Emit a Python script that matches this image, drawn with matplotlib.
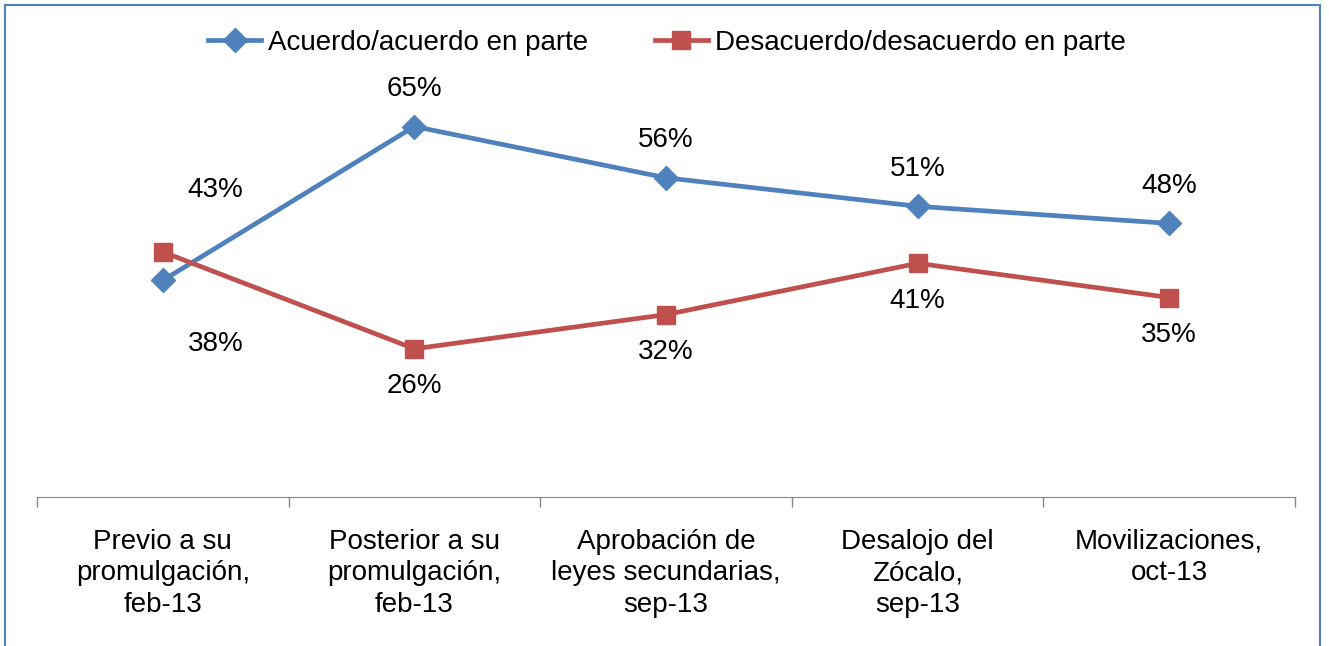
import matplotlib
matplotlib.use("Agg")
import matplotlib.pyplot as plt
from matplotlib.patches import Rectangle
import numpy as np

plt.rcParams['font.family'] = ['Liberation Sans', 'DejaVu Sans']

categories = [
    "Previo a su\npromulgación,\nfeb-13",
    "Posterior a su\npromulgación,\nfeb-13",
    "Aprobación de\nleyes secundarias,\nsep-13",
    "Desalojo del\nZócalo,\nsep-13",
    "Movilizaciones,\noct-13",
]
acuerdo = [38, 65, 56, 51, 48]
desacuerdo = [43, 26, 32, 41, 35]
acuerdo_labels = ["43%", "65%", "56%", "51%", "48%"]
desacuerdo_labels = ["38%", "26%", "32%", "41%", "35%"]

blue = "#4F81BD"
red = "#C0504D"

# label offsets in points (first pair was moved by hand in the original)
acuerdo_off = [(38, 65), (0, 27), (0, 27), (0, 27), (0, 27)]
desacuerdo_off = [(38, -66), (0, -27), (0, -27), (0, -27), (0, -27)]

W, H = 1329, 646
fig = plt.figure(figsize=(W / 100, H / 100), dpi=100)
ax = fig.add_axes([37 / W, 1 - 497 / H, (1295 - 37) / W, (497 - 41) / H])

x = np.arange(len(categories))
ax.plot(x, acuerdo, color=blue, lw=3.4, marker="D", ms=12,
        label="Acuerdo/acuerdo en parte")
ax.plot(x, desacuerdo, color=red, lw=3.4, marker="s", ms=13,
        label="Desacuerdo/desacuerdo en parte")

for i in range(len(x)):
    ax.annotate(acuerdo_labels[i], (x[i], acuerdo[i]), xytext=acuerdo_off[i],
                textcoords="offset points", ha="center", va="center", fontsize=20)
    ax.annotate(desacuerdo_labels[i], (x[i], desacuerdo[i]), xytext=desacuerdo_off[i],
                textcoords="offset points", ha="center", va="center", fontsize=20)

ax.set_xlim(-0.5, len(categories) - 0.5)
ax.set_ylim(0, 80)
ax.set_xticks(x)
ax.set_xticklabels(categories, fontsize=20, linespacing=1.27)
ax.set_xticks(np.arange(-0.5, len(categories)), minor=True)
ax.tick_params(axis="x", which="major", length=0, pad=23)
ax.tick_params(axis="x", which="minor", length=7, color="#868686", width=1)
ax.set_yticks([])
for s in ["left", "top", "right"]:
    ax.spines[s].set_visible(False)
ax.spines["bottom"].set_color("#868686")

fig.legend(loc="center", bbox_to_anchor=(667 / W, 1 - 43 / H), ncol=2,
           frameon=False, fontsize=20, handlelength=1.9, handletextpad=0.25,
           columnspacing=2.4)

fig.patches.append(Rectangle((5 / W, -0.05), (1320 - 5) / W, 1.05 - 5 / H,
                             transform=fig.transFigure, fill=False,
                             edgecolor="#4F81BD", lw=1.5))

fig.savefig("out.png", dpi=100)
